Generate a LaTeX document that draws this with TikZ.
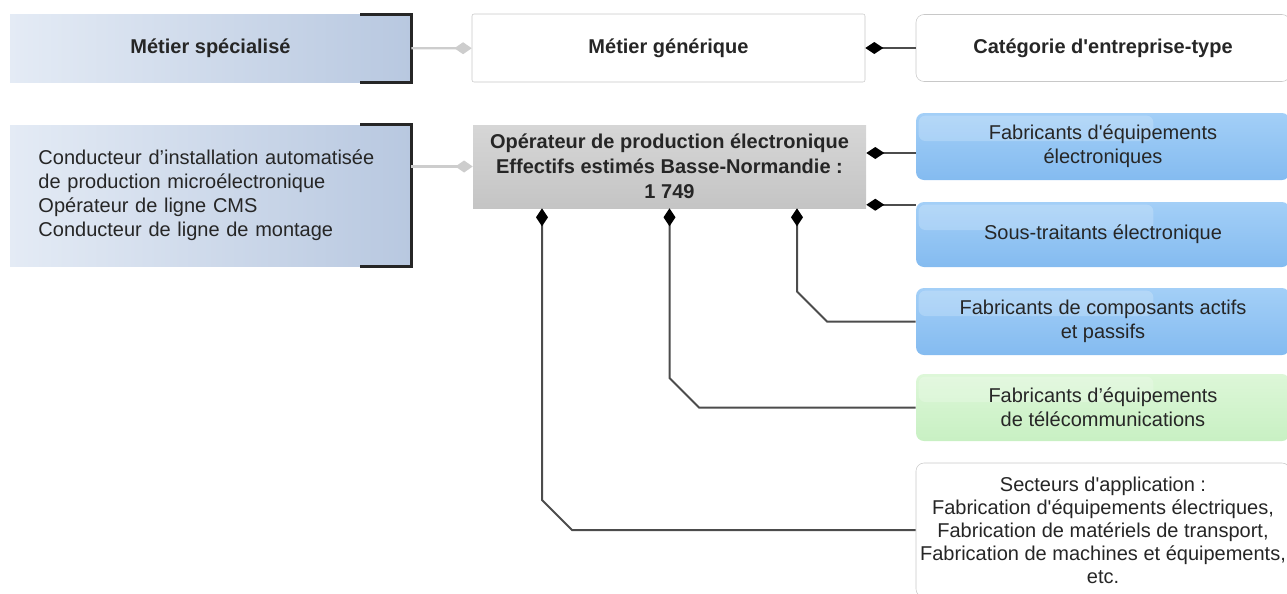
\documentclass[tikz,border=0pt]{standalone}
\usepackage{fontspec}
\setmainfont{Liberation Sans}
\usetikzlibrary{arrows.meta,calc,positioning}
\definecolor{specL}{HTML}{E4EBF5}
\definecolor{specR}{HTML}{B8C8E0}
\definecolor{blueT}{HTML}{A3CFF7}
\definecolor{blueB}{HTML}{84BBF0}
\definecolor{greenT}{HTML}{DDF7D8}
\definecolor{greenB}{HTML}{C8F0C3}
\definecolor{frame}{HTML}{C8C8C8}
\newcommand{\sq}{\textquotesingle}

\begin{document}
\begin{tikzpicture}[x=0.75pt,y=-0.75pt,font=\fontsize{15pt}{18pt}\selectfont,
  every node/.style={inner sep=0pt,text=black!85},
  spec/.style={minimum width=300.75pt,left color=specL,right color=specR},
  head/.style={minimum height=51pt,font=\fontsize{15pt}{18pt}\selectfont\bfseries},
  cat/.style={minimum width=280.5pt,minimum height=50.25pt,rounded corners=6pt,align=center},
  gloss/.style={path picture={\fill[white,opacity=.2,rounded corners=5pt]
    ([shift={(2pt,-2pt)}]path picture bounding box.north west) rectangle
    ([shift={(178pt,-21pt)}]path picture bounding box.north west);}},
  blue/.style={cat,top color=blueT,bottom color=blueB,gloss},
  green/.style={cat,top color=greenT,bottom color=greenB,gloss},
  bracket/.style={line width=2.2pt,black!85},
  light/.style={draw=frame!90!white,line width=1.6pt,-{Diamond[length=13pt,width=9pt]}},
  dark/.style={draw=black!70,line width=1.5pt,-{Diamond[length=13.5pt,width=9pt,black]}}]
\useasboundingbox (0,0) rectangle (1287,593);

% top row
\node[spec,head] (S) at (210.5,48.5) {Métier spécialisé};
\node[head,draw=frame,fill=white,rounded corners=1.5pt,minimum width=294.75pt] (G) at (668.5,48) {Métier générique};
\node[head,cat,draw=frame,fill=white] (C) at (1103,48) {Catégorie d\sq entreprise-type};

% second row
\node[spec,minimum height=105.75pt,text width=258pt,inner xsep=21.375pt,align=left] (L) at (210.5,195.5)
  {Conducteur d’installation automatisée\\de production microélectronique\\Opérateur de ligne CMS\\Conducteur de ligne de montage};
\node[minimum width=294.75pt,minimum height=62.25pt,top color=black!16,bottom color=black!23,align=center,
  font=\fontsize{15pt}{18.75pt}\selectfont\bfseries] (O) at (669.5,166.5)
  {Opérateur de production électronique\\Effectifs estimés Basse-Normandie :\\1 749};

% entreprises-type
\node[blue] (E1) at (1103,146.5) {Fabricants d\sq équipements\\électroniques};
\node[blue,minimum height=48.75pt] (E2) at (1103,234.5) {Sous-traitants électronique};
\node[blue] (E3) at (1103,321.5) {Fabricants de composants actifs\\et passifs};
\node[green] (E4) at (1103,407.5) {Fabricants d’équipements\\de télécommunications};
\node[cat,draw=frame,fill=white,minimum height=100.5pt,font=\fontsize{15pt}{17.25pt}\selectfont] (E5) at (1103,530)
  {Secteurs d\sq application :\\Fabrication d\sq équipements électriques,\\Fabrication de matériels de transport,\\Fabrication de machines et équipements,\\etc.};

% brackets
\draw[bracket] ([xshift=-38.25pt]S.north east) -- (S.north east) -- (S.south east) -- ([xshift=-38.25pt]S.south east);
\draw[bracket] ([xshift=-38.25pt]L.north east) -- (L.north east) -- (L.south east) -- ([xshift=-38.25pt]L.south east);

% links
\path (S) edge[light] (G)
      (C) edge[dark] (G);
\draw[light] (L.east |- O.west) -- (O.west);
\draw[dark] ($(E1.west)+(0,6.5)$) coordinate (e1) -- (e1 -| O.east);
\draw[dark] ($(E2.north west)+(0,3)$) coordinate (e2) -- (e2 -| O.east);
\draw[dark] (E3.west) -- (827,321.5) -- (797,291.5) -- ($(O.south)+(127.5,0)$);
\draw[dark] (E4.west) -- (699,407.5) -- (669.5,378) -- (O.south);
\draw[dark] (E5.west) -- (572,530) -- (542,500) -- ($(O.south)+(-127.5,0)$);
\end{tikzpicture}
\end{document}
